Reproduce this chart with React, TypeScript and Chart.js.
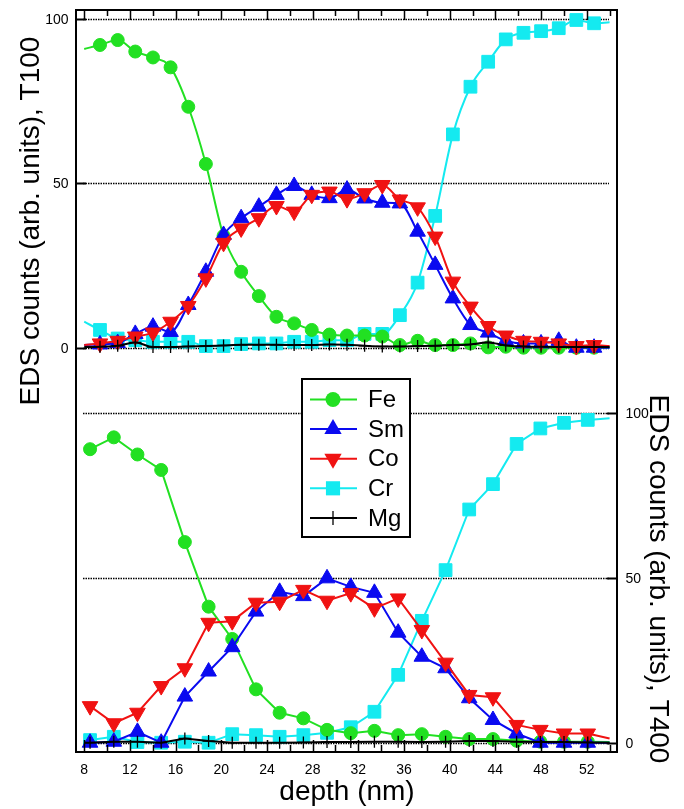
import React, { useEffect, useRef } from 'react';
import { Chart, registerables } from 'chart.js';

Chart.register(...registerables);

// ---------- data ----------
const seriesNames = ['Fe', 'Sm', 'Co', 'Cr', 'Mg'];

// depth (nm) of the measured points, upper panel (T100)
const topDepth = [9.38, 10.93, 12.47, 14.02, 15.56, 17.11, 18.65, 20.2, 21.74, 23.29, 24.83, 26.38, 27.92, 29.47, 31.01, 32.55, 34.1, 35.64, 37.19, 38.73, 40.28, 41.82, 43.37, 44.91, 46.46, 48.0, 49.55, 51.09, 52.64];
// depth (nm) of the measured points, lower panel (T400)
const bottomDepth = [8.51, 10.59, 12.66, 14.74, 16.81, 18.89, 20.96, 23.04, 25.11, 27.19, 29.26, 31.34, 33.41, 35.49, 37.56, 39.64, 41.71, 43.79, 45.86, 47.94, 50.01, 52.09];

// upper panel (T100)
const topFe = [92.1, 93.6, 90.1, 88.3, 85.3, 73.3, 55.9, 34.0, 23.1, 15.7, 9.4, 7.4, 5.4, 4.0, 3.7, 3.7, 3.4, 0.8, 2.1, 0.8, 0.8, 1.3, 0.1, 0.3, 0, 0, 0, 0, 0];
const topSm = [1.0, 1.4, 4.2, 6.4, 4.8, 13.0, 23.1, 34.3, 39.4, 42.9, 46.5, 49.2, 46.5, 45.5, 48.1, 45.4, 44.1, 43.9, 35.3, 25.2, 15.0, 6.9, 4.6, 2.1, 1.3, 1.3, 2.1, 0, 0];
const topCo = [1.3, 2.1, 3.4, 4.6, 7.9, 12.7, 21.1, 31.9, 36.3, 39.4, 43.1, 41.4, 46.5, 47.5, 45.2, 47.0, 49.5, 45.1, 42.7, 33.8, 20.1, 12.5, 6.6, 3.7, 2.1, 1.8, 1.3, 0.5, 0.8];
const topCr = [5.4, 2.8, 2.3, 1.8, 1.8, 1.8, 0.5, 0.5, 1.1, 1.3, 1.3, 1.8, 1.8, 2.3, 2.3, 4.2, 4.2, 9.9, 19.8, 40.1, 64.9, 79.4, 87.0, 93.8, 95.8, 96.3, 97.2, 99.7, 98.7];
const topMg = [0.3, 0.6, 1.6, 0.2, 0.2, 0.4, 0.5, 0.7, 0.9, 0.9, 0.9, 0.8, 0.8, 1.0, 0.9, 0.6, 0.4, 0.4, 0.5, 0.6, 0.8, 1.0, 1.6, 0.7, 0.4, 0.3, 0.2, 0.2, 0.2];

// lower panel (T400)
const bottomFe = [89.1, 92.7, 87.5, 82.8, 60.9, 41.3, 31.5, 16.2, 9.1, 7.4, 3.9, 2.9, 3.6, 2.3, 2.6, 1.8, 1.1, 1.1, 0.6, 0.3, 0.3, 0.3];
const bottomSm = [0, 0.3, 3.3, 0, 14.0, 21.6, 29.0, 39.8, 45.8, 44.5, 49.9, 47.3, 45.5, 33.4, 26.1, 22.6, 13.5, 6.9, 2.8, 0, 0, 0];
const bottomCo = [11.1, 5.9, 9.1, 17.2, 22.6, 36.4, 36.9, 42.5, 42.8, 46.4, 43.1, 45.4, 40.8, 43.8, 34.2, 24.3, 14.5, 13.8, 5.4, 3.9, 2.8, 2.8];
const bottomCr = [0.8, 1.8, 0.2, 0, 0.3, 0, 2.6, 2.3, 1.8, 2.3, 3.0, 4.7, 9.4, 20.6, 37.0, 52.4, 70.8, 78.5, 90.7, 95.4, 97.1, 98.0];
const bottomMg = [0, 0.3, 0.3, 0, 1.3, 0.5, 0, 0, 0, 0.1, 0.2, 0.2, 0.3, 0.3, 0.2, 0.3, 0.5, 0.5, 0.3, 0.2, 0.2, 0.1];

// fitted curves run past the markers to these depths
const curveStartDepth = 8.0;
const curveEndDepth = 54.0;
const topCurveStart = [90.9, 0.8, 0.8, 7.9, 0.2]; // Fe, Sm, Co, Cr, Mg
const topCurveEnd = [0, 0, 0.5, 99.0, 0.2];
const bottomCurveStart = [null, null, null, null, 0];
const bottomCurveEnd = [0.2, 0, 1.3, 98.5, 0];

// ticks
const xMajorTicks = [8, 12, 16, 20, 24, 28, 32, 36, 40, 44, 48, 52];
const xMinorTicks = [10, 14, 18, 22, 26, 30, 34, 38, 42, 46, 50, 54];
const yTickValues = [0, 50, 100];

const xTitle = 'depth (nm)';
const leftTitle = 'EDS counts (arb. units), T100';
const rightTitle = 'EDS counts (arb. units), T400';

// ---------- styles ----------
const FONT = '"Liberation Sans", Arial, Helvetica, sans-serif';
const colors = ['#22e022', '#0a0af0', '#f01212', '#14eaf0', '#000000'];
const pointStyles = ['circle', 'triangle', 'triangle', 'rect', 'cross'];
const pointRotations = [0, 0, 180, 0, 0];
const pointRadii = [6.5, 9, 9, 9, 6];
const drawOrder = [3, 2, 1, 4, 0];

type Pt = { x: number; y: number; edge?: boolean };

function buildPoints(depth: number[], values: number[], start: number | null, end: number | null): Pt[] {
  const pts: Pt[] = [];
  if (start !== null && start !== undefined) pts.push({ x: curveStartDepth, y: start, edge: true });
  depth.forEach((d, i) => pts.push({ x: d, y: values[i] }));
  if (end !== null && end !== undefined) pts.push({ x: curveEndDepth, y: end, edge: true });
  return pts;
}

function makeDataset(i: number, panel: 'top' | 'bottom', depth: number[], values: number[], start: number | null, end: number | null) {
  return {
    label: seriesNames[i],
    data: buildPoints(depth, values, start, end),
    xAxisID: 'x',
    yAxisID: panel === 'top' ? 'y' : 'y2',
    borderColor: colors[i],
    backgroundColor: colors[i],
    pointBackgroundColor: colors[i],
    pointBorderColor: colors[i],
    borderWidth: 2,
    pointBorderWidth: i === 4 ? 1.3 : 1,
    pointStyle: pointStyles[i],
    pointRotation: pointRotations[i],
    pointRadius: (c: any) => (c.raw && c.raw.edge ? 0 : pointRadii[i]),
    pointHoverRadius: (c: any) => (c.raw && c.raw.edge ? 0 : pointRadii[i]),
    tension: panel === 'top' ? 0.4 : 0,
    cubicInterpolationMode: panel === 'top' ? 'monotone' : 'default',
    fill: false,
    order: drawOrder[i],
    panel,
  };
}

function drawMarker(ctx: CanvasRenderingContext2D, style: string, x: number, y: number, r: number, rot: number, color: string) {
  ctx.save();
  ctx.fillStyle = color;
  ctx.strokeStyle = color;
  ctx.lineWidth = 1.3;
  ctx.beginPath();
  if (style === 'circle') {
    ctx.arc(x, y, r, 0, Math.PI * 2);
    ctx.fill();
  } else if (style === 'triangle') {
    let a = (rot * Math.PI) / 180;
    ctx.moveTo(x + Math.sin(a) * r, y - Math.cos(a) * r);
    a += (2 * Math.PI) / 3;
    ctx.lineTo(x + Math.sin(a) * r, y - Math.cos(a) * r);
    a += (2 * Math.PI) / 3;
    ctx.lineTo(x + Math.sin(a) * r, y - Math.cos(a) * r);
    ctx.closePath();
    ctx.fill();
  } else if (style === 'rect') {
    const s = Math.SQRT1_2 * r;
    ctx.rect(x - s, y - s, 2 * s, 2 * s);
    ctx.fill();
  } else {
    ctx.moveTo(x - r, y);
    ctx.lineTo(x + r, y);
    ctx.moveTo(x, y - r);
    ctx.lineTo(x, y + r);
    ctx.stroke();
  }
  ctx.restore();
}

const decorPlugin = {
  id: 'panelDecor',
  beforeDatasetsDraw(chart: any) {
    const { ctx, chartArea: a, scales } = chart;
    ctx.save();
    ctx.strokeStyle = '#000';
    ctx.lineWidth = 1.5;
    ctx.setLineDash([1.5, 1]);
    for (const id of ['y', 'y2']) {
      for (const v of yTickValues) {
        const py = Math.round(scales[id].getPixelForValue(v)) + 0.5;
        ctx.beginPath();
        ctx.moveTo(a.left + 7, py);
        ctx.lineTo(a.right - 8, py);
        ctx.stroke();
      }
    }
    ctx.restore();
  },
  afterDatasetsDraw(chart: any) {
    const { ctx, chartArea: a, scales } = chart;
    const xs = scales.x;
    ctx.save();
    ctx.strokeStyle = '#000';
    ctx.fillStyle = '#000';
    ctx.setLineDash([]);

    // x ticks on top and bottom frame, pointing inward
    ctx.lineWidth = 1.5;
    for (const v of xMajorTicks) {
      const px = Math.round(xs.getPixelForValue(v)) + 0.5;
      ctx.beginPath();
      ctx.moveTo(px, a.top);
      ctx.lineTo(px, a.top + 10);
      ctx.moveTo(px, a.bottom);
      ctx.lineTo(px, a.bottom - 12);
      ctx.stroke();
    }
    for (const v of xMinorTicks) {
      const px = Math.round(xs.getPixelForValue(v)) + 0.5;
      ctx.beginPath();
      ctx.moveTo(px, a.top);
      ctx.lineTo(px, a.top + 6);
      ctx.moveTo(px, a.bottom);
      ctx.lineTo(px, a.bottom - 7);
      ctx.stroke();
    }

    // y ticks: left for upper panel, right for lower panel
    ctx.lineWidth = 2;
    for (const v of yTickValues) {
      const py = Math.round(scales.y.getPixelForValue(v)) + 0.5;
      ctx.beginPath();
      ctx.moveTo(a.left, py);
      ctx.lineTo(a.left + 10, py);
      ctx.stroke();
      const py2 = Math.round(scales.y2.getPixelForValue(v)) + 0.5;
      ctx.beginPath();
      ctx.moveTo(a.right - 10, py2);
      ctx.lineTo(a.right, py2);
      ctx.stroke();
    }

    // frame
    ctx.lineWidth = 2;
    ctx.strokeRect(a.left, a.top, a.right - a.left, a.bottom - a.top);

    // tick labels
    ctx.font = `14px ${FONT}`;
    ctx.textBaseline = 'alphabetic';
    ctx.textAlign = 'center';
    for (const v of xMajorTicks) {
      ctx.fillText(String(v), xs.getPixelForValue(v), a.bottom + 21.5);
    }
    ctx.textAlign = 'right';
    for (const v of yTickValues) {
      ctx.fillText(String(v), a.left - 7.5, scales.y.getPixelForValue(v) + 5);
    }
    ctx.textAlign = 'left';
    for (const v of yTickValues) {
      ctx.fillText(String(v), a.right + 8.5, scales.y2.getPixelForValue(v) + 5);
    }

    // axis titles
    ctx.font = `28px ${FONT}`;
    ctx.textAlign = 'center';
    ctx.fillText(xTitle, (a.left + a.right) / 2 + 0.5, a.bottom + 48);

    ctx.save();
    ctx.translate(a.left - 37.5, a.top + 211);
    ctx.rotate(-Math.PI / 2);
    ctx.fillText(leftTitle, 0, 0);
    ctx.restore();

    ctx.save();
    ctx.translate(a.right + 33, a.top + 569);
    ctx.rotate(Math.PI / 2);
    ctx.fillText(rightTitle, 0, 0);
    ctx.restore();

    // legend (inside plot)
    const bx = a.left + 226;
    const by = a.top + 369;
    const bw = 108;
    const bh = 158;
    ctx.fillStyle = '#fff';
    ctx.fillRect(bx, by, bw, bh);
    ctx.strokeStyle = '#000';
    ctx.lineWidth = 2;
    ctx.strokeRect(bx, by, bw, bh);
    const legendRadii = [7.5, 10, 10, 10, 7];
    ctx.font = `24px ${FONT}`;
    ctx.textAlign = 'left';
    ctx.textBaseline = 'middle';
    const seen: string[] = [];
    chart.data.datasets.forEach((ds: any) => {
      if (ds.panel !== 'top') return;
      const i = seriesNames.indexOf(ds.label);
      if (seen.includes(ds.label)) return;
      seen.push(ds.label);
      const ly = by + 20.5 + i * 29.6;
      ctx.strokeStyle = ds.borderColor;
      ctx.lineWidth = 2;
      ctx.beginPath();
      ctx.moveTo(bx + 8, ly);
      ctx.lineTo(bx + 55, ly);
      ctx.stroke();
      drawMarker(ctx, ds.pointStyle, bx + 31, ly, legendRadii[i], ds.pointRotation, ds.borderColor);
      ctx.fillStyle = '#000';
      ctx.fillText(ds.label, bx + 66, ly + 1);
    });

    ctx.restore();
  },
};

export default function App() {
  const ref = useRef<HTMLCanvasElement>(null);

  useEffect(() => {
    if (!ref.current) return;
    const topValues = [topFe, topSm, topCo, topCr, topMg];
    const bottomValues = [bottomFe, bottomSm, bottomCo, bottomCr, bottomMg];
    const datasets: any[] = [];
    seriesNames.forEach((_, i) => {
      datasets.push(makeDataset(i, 'top', topDepth, topValues[i], topCurveStart[i], topCurveEnd[i]));
    });
    seriesNames.forEach((_, i) => {
      datasets.push(makeDataset(i, 'bottom', bottomDepth, bottomValues[i], bottomCurveStart[i], bottomCurveEnd[i]));
    });

    const chart = new Chart(ref.current, {
      type: 'line',
      data: { datasets },
      options: {
        animation: false,
        responsive: false,
        devicePixelRatio: 1,
        layout: { padding: { left: 76, right: 67, top: 10, bottom: 57 } },
        plugins: { legend: { display: false }, tooltip: { enabled: false } },
        events: [],
        scales: {
          x: { type: 'linear', min: 7.28, max: 54.65, display: false },
          y: { type: 'linear', min: -123.0, max: 102.74, display: false },
          y2: { type: 'linear', min: -2.82, max: 222.43, display: false },
        },
      },
      plugins: [decorPlugin],
    } as any);
    return () => chart.destroy();
  }, []);

  return (
    <div style={{ position: 'fixed', left: 0, top: 0, width: 684, height: 809, background: '#fff' }}>
      <canvas ref={ref} width={684} height={809} style={{ display: 'block', width: 684, height: 809 }} />
    </div>
  );
}
